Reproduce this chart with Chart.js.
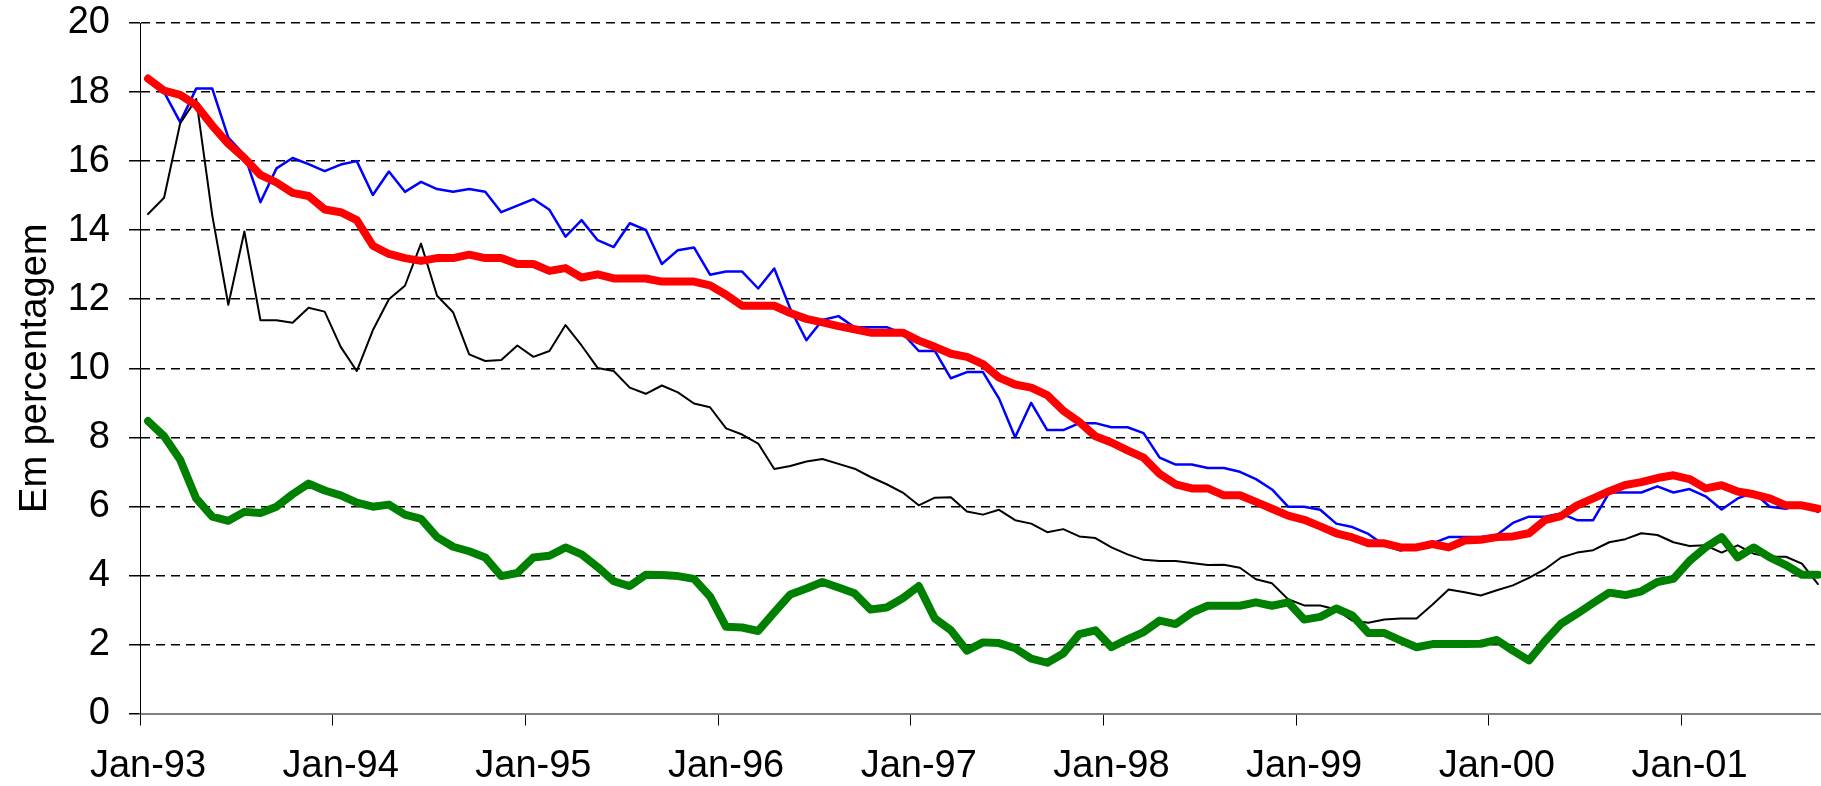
<!DOCTYPE html>
<html>
<head>
<meta charset="utf-8">
<title>Em percentagem</title>
<script src="https://cdn.jsdelivr.net/npm/chart.js"></script>
<style>
  body { margin: 0; background: #fff; overflow: hidden; }
  .chart_box { width: 1830px; height: 786px; }
</style>
</head>
<body>
<div class="chart_box">
  <canvas id="myChart"></canvas>
</div>

<script>

// data start

const monthNames = ['Jan', 'Feb', 'Mar', 'Apr', 'May', 'Jun', 'Jul', 'Aug', 'Sep', 'Oct', 'Nov', 'Dec'];
const years = ['93', '94', '95', '96', '97', '98', '99', '00', '01'];

// one label per month, Jan-93 .. Sep-01
const labels = [];
years.forEach(function (y) {
  monthNames.forEach(function (m) {
    if (labels.length < 105) labels.push(m + '-' + y);
  });
});

const serieAzul = [
  18.4, 18.0, 17.13, 18.1, 18.1, 16.68, 16.18, 14.81, 15.79, 16.09,
  15.91, 15.71, 15.9, 16.0, 15.02, 15.7, 15.11, 15.4, 15.19, 15.11,
  15.19, 15.11, 14.52, 14.71, 14.9, 14.59, 13.81, 14.29, 13.71, 13.51,
  14.2, 14.01, 13.02, 13.42, 13.5, 12.71, 12.8, 12.8, 12.31, 12.89,
  11.72, 10.81, 11.4, 11.51, 11.19, 11.19, 11.19, 11.01, 10.5, 10.5,
  9.71, 9.89, 9.89, 9.12, 8.0, 9.0, 8.21, 8.21, 8.41, 8.41,
  8.29, 8.29, 8.12, 7.41, 7.21, 7.21, 7.11, 7.11, 7.0, 6.79,
  6.49, 5.99, 5.99, 5.9, 5.5, 5.4, 5.2, 4.87, 4.72, 4.85,
  4.93, 5.11, 5.11, 5.11, 5.17, 5.52, 5.7, 5.7, 5.79, 5.6,
  5.6, 6.4, 6.4, 6.4, 6.58, 6.4, 6.5, 6.29, 5.91, 6.23,
  6.4, 5.99, 5.93, 6.09, 5.84
];

const seriePreta = [
  14.47, 14.94, 17.09, 17.8, 14.43, 11.84, 13.96, 11.39, 11.39, 11.32,
  11.75, 11.64, 10.62, 9.92, 11.1, 12.0, 12.39, 13.61, 12.1, 11.62,
  10.4, 10.21, 10.24, 10.66, 10.33, 10.5, 11.25, 10.66, 10.01, 9.92,
  9.44, 9.26, 9.5, 9.3, 8.98, 8.87, 8.26, 8.08, 7.82, 7.08,
  7.17, 7.3, 7.37, 7.23, 7.09, 6.85, 6.64, 6.4, 6.03, 6.25,
  6.26, 5.85, 5.76, 5.9, 5.6, 5.5, 5.25, 5.34, 5.13, 5.08,
  4.81, 4.61, 4.45, 4.42, 4.42, 4.36, 4.3, 4.31, 4.22, 3.89,
  3.77, 3.31, 3.13, 3.13, 3.01, 2.69, 2.63, 2.72, 2.75, 2.75,
  3.16, 3.59, 3.51, 3.42, 3.57, 3.71, 3.93, 4.18, 4.52, 4.66,
  4.73, 4.96, 5.05, 5.22, 5.17, 4.96, 4.85, 4.87, 4.66, 4.87,
  4.63, 4.54, 4.54, 4.34, 3.75
];

const serieVermelha = [
  18.39, 18.04, 17.92, 17.62, 17.03, 16.5, 16.09, 15.6, 15.38, 15.08,
  14.99, 14.6, 14.52, 14.29, 13.55, 13.31, 13.19, 13.11, 13.19, 13.19,
  13.29, 13.19, 13.19, 13.02, 13.02, 12.82, 12.9, 12.63, 12.72, 12.6,
  12.6, 12.6, 12.51, 12.51, 12.51, 12.4, 12.13, 11.81, 11.81, 11.81,
  11.6, 11.43, 11.33, 11.22, 11.13, 11.03, 11.03, 11.03, 10.8, 10.62,
  10.42, 10.33, 10.12, 9.73, 9.53, 9.44, 9.22, 8.77, 8.44, 8.03,
  7.85, 7.62, 7.41, 6.94, 6.64, 6.52, 6.52, 6.32, 6.32, 6.13,
  5.93, 5.73, 5.61, 5.42, 5.22, 5.1, 4.93, 4.93, 4.81, 4.81,
  4.91, 4.81, 5.01, 5.03, 5.11, 5.13, 5.22, 5.6, 5.72, 6.03,
  6.23, 6.44, 6.62, 6.7, 6.82, 6.9, 6.79, 6.52, 6.61, 6.43,
  6.35, 6.23, 6.03, 6.03, 5.93
];

const serieVerde = [
  8.47, 8.03, 7.35, 6.23, 5.7, 5.58, 5.84, 5.81, 5.99, 6.35,
  6.66, 6.46, 6.32, 6.11, 5.99, 6.05, 5.76, 5.64, 5.11, 4.83,
  4.7, 4.52, 3.98, 4.07, 4.52, 4.57, 4.81, 4.61, 4.24, 3.83,
  3.69, 4.02, 4.01, 3.98, 3.9, 3.39, 2.51, 2.49, 2.39, 2.93,
  3.45, 3.62, 3.81, 3.65, 3.48, 3.01, 3.07, 3.34, 3.69, 2.75,
  2.41, 1.82, 2.06, 2.04, 1.89, 1.59, 1.47, 1.74, 2.3, 2.41,
  1.92, 2.15, 2.36, 2.69, 2.59, 2.92, 3.12, 3.12, 3.12, 3.22,
  3.12, 3.22, 2.72, 2.8, 3.04, 2.84, 2.33, 2.33, 2.12, 1.92,
  2.01, 2.01, 2.01, 2.02, 2.13, 1.82, 1.54, 2.1, 2.6, 2.89,
  3.2, 3.5, 3.43, 3.54, 3.81, 3.9, 4.42, 4.81, 5.11, 4.52,
  4.81, 4.52, 4.3, 4.02, 4.02
];

const yMin = 0;
const yMax = 20;
const yStep = 2;
const yTitle = 'Em percentagem';

// data end


// line chart start

const fontFamily = '"Liberation Sans", Arial, sans-serif';
const ctx = document.getElementById('myChart');

new Chart(ctx, {
  type: 'line',
  data: {
    labels: labels,
    datasets: [
      { label: 'verde', data: serieVerde, borderColor: '#008000', borderWidth: 8 },
      { label: 'vermelha', data: serieVermelha, borderColor: '#ff0000', borderWidth: 8 },
      { label: 'preta', data: seriePreta, borderColor: '#000000', borderWidth: 2 },
      { label: 'azul', data: serieAzul, borderColor: '#0000ff', borderWidth: 2.5 }
    ]
  },
  options: {
    responsive: true,
    maintainAspectRatio: false,
    animation: false,
    layout: { padding: { top: 23, right: 4, left: 0, bottom: 0 } },
    elements: {
      point: { radius: 0 },
      line: { tension: 0, borderJoinStyle: 'round', borderCapStyle: 'round' }
    },
    plugins: {
      legend: { display: false },
      tooltip: { enabled: false }
    },
    scales: {
      x: {
        offset: true,
        grid: {
          offset: true,
          drawOnChartArea: false,
          drawTicks: true,
          tickLength: 12,
          tickWidth: 1,
          // tick mark only on the January boundaries
          tickColor: function (c) { return c.index % 12 === 0 ? '#000' : 'rgba(0,0,0,0)'; }
        },
        border: { color: '#808080', width: 2 },
        ticks: {
          autoSkip: false,
          maxRotation: 0,
          padding: 18,
          color: '#000',
          font: { family: fontFamily, size: 38 },
          callback: function (value, index) {
            return index % 12 === 0 ? this.getLabelForValue(value) : '';
          }
        },
        afterFit: function (scale) {
          scale.height = 72.5;
          scale.paddingLeft = 0;
          scale.paddingRight = 0;
        }
      },
      y: {
        min: yMin,
        max: yMax,
        ticks: {
          stepSize: yStep,
          padding: 19,
          color: '#000',
          font: { family: fontFamily, size: 38 }
        },
        grid: {
          color: function (c) { return c.tick && c.tick.value === 0 ? 'rgba(0,0,0,0)' : '#000'; },
          lineWidth: 1.5,
          drawTicks: true,
          tickLength: 11,
          tickColor: '#000',
          tickWidth: 1.5,
          tickBorderDash: []
        },
        border: { display: true, color: '#000', width: 1, dash: [9, 6] },
        title: {
          display: true,
          text: yTitle,
          color: '#000',
          font: { family: fontFamily, size: 38 },
          padding: { top: 13, bottom: 0 }
        },
        afterFit: function (scale) {
          scale.width = 140;
          scale.paddingTop = 0;
          scale.paddingBottom = 0;
        }
      }
    }
  }
});

// line chart end

</script>
</body>
</html>
